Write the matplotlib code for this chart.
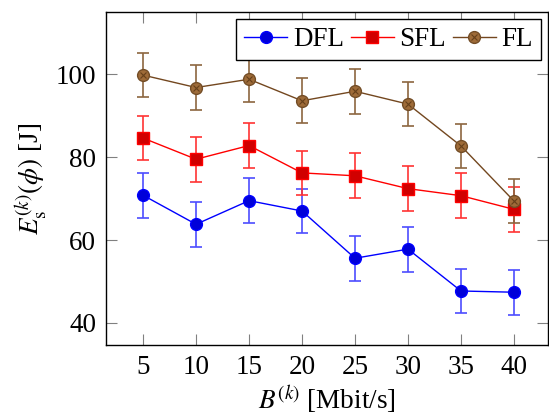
import matplotlib
matplotlib.use("Agg")
import matplotlib.pyplot as plt
from matplotlib.legend_handler import HandlerTuple

plt.rcParams["font.family"] = "serif"
plt.rcParams["font.serif"] = ["Liberation Serif", "DejaVu Serif"]
plt.rcParams["mathtext.fontset"] = "stix"
plt.rcParams["font.size"] = 19.5

# Bandwidth per device and measured energy (mean, std)
bandwidth = [5, 10, 15, 20, 25, 30, 35, 40]
dfl_energy = [70.8, 63.8, 69.5, 67.0, 55.6, 57.8, 47.7, 47.4]
dfl_err = [5.4, 5.4, 5.4, 5.4, 5.4, 5.4, 5.4, 5.4]
sfl_energy = [84.6, 79.5, 82.8, 76.2, 75.5, 72.4, 70.7, 67.4]
sfl_err = [5.4, 5.4, 5.4, 5.4, 5.4, 5.4, 5.4, 5.4]
fl_energy = [99.8, 96.8, 98.8, 93.6, 95.9, 92.8, 82.7, 69.4]
fl_err = [5.4, 5.4, 5.4, 5.4, 5.4, 5.4, 5.4, 5.4]

fig = plt.figure(figsize=(5.49, 4.18), dpi=100)
ax = fig.add_axes([0.193, 0.175, 0.805, 0.796])

blue = (0.0, 0.0, 1.0)
red = (1.0, 0.0, 0.0)
brown = (0.45, 0.28, 0.12)

ax.errorbar(bandwidth, dfl_energy, yerr=dfl_err, color=blue, ecolor=(0.3, 0.3, 1.0),
            elinewidth=1.2, capsize=4.5, capthick=1.2, lw=1.0, marker="o",
            ms=8.5, mfc=(0.0, 0.0, 0.85), mec=blue, zorder=3)
ax.errorbar(bandwidth, sfl_energy, yerr=sfl_err, color=red, ecolor=(1.0, 0.2, 0.2),
            elinewidth=1.2, capsize=4.5, capthick=1.2, lw=1.0, marker="s",
            ms=8, mfc=(0.82, 0.0, 0.0), mec=red, zorder=3)
ax.errorbar(bandwidth, fl_energy, yerr=fl_err, color=brown, ecolor=(0.55, 0.4, 0.25),
            elinewidth=1.2, capsize=4.5, capthick=1.2, lw=1.0, marker="o",
            ms=8.5, mfc=(0.62, 0.42, 0.22), mec=(0.45, 0.3, 0.15), zorder=3)
# cross inside the FL markers (otimes)
ax.plot(bandwidth, fl_energy, ls="none", marker="x", ms=5, mew=0.8,
        color=(0.4, 0.25, 0.1), zorder=4)

ax.set_xlim(1.5, 43.2)
ax.set_ylim(34.7, 115)
ax.set_xticks(bandwidth)
ax.set_yticks([40, 60, 80, 100])
ax.tick_params(direction="in", length=8, width=0.8, color="0.5",
               top=True, right=True, pad=7)
for s in ax.spines.values():
    s.set_linewidth(1.0)

ax.set_xlabel(r"$B^{(k)}$ [Mbit/s]", labelpad=3)
ax.set_ylabel(r"$E_{\mathrm{s}}^{(k)}(\phi)$ [J]", labelpad=5)

h_dfl, = ax.plot([], [], color=blue, lw=1.0, marker="o", ms=8.5,
                 mfc=(0.0, 0.0, 0.85), mec=blue)
h_sfl, = ax.plot([], [], color=red, lw=1.0, marker="s", ms=8,
                 mfc=(0.82, 0.0, 0.0), mec=red)
h_fl, = ax.plot([], [], color=brown, lw=1.0, marker="o", ms=8.5,
                mfc=(0.62, 0.42, 0.22), mec=(0.45, 0.3, 0.15))
h_flx, = ax.plot([], [], ls="none", marker="x", ms=5, mew=0.8,
                 color=(0.4, 0.25, 0.1))

leg = ax.legend([h_dfl, h_sfl, (h_fl, h_flx)], ["DFL", "SFL", "FL"],
                handler_map={tuple: HandlerTuple(ndivide=1)},
                loc="upper right", ncol=3, fancybox=False, framealpha=1,
                edgecolor="black", handlelength=1.6, handletextpad=0.2,
                columnspacing=0.25, borderpad=0.3, borderaxespad=0.25)
leg.get_frame().set_linewidth(1.0)

fig.savefig("out.png", dpi=100)
